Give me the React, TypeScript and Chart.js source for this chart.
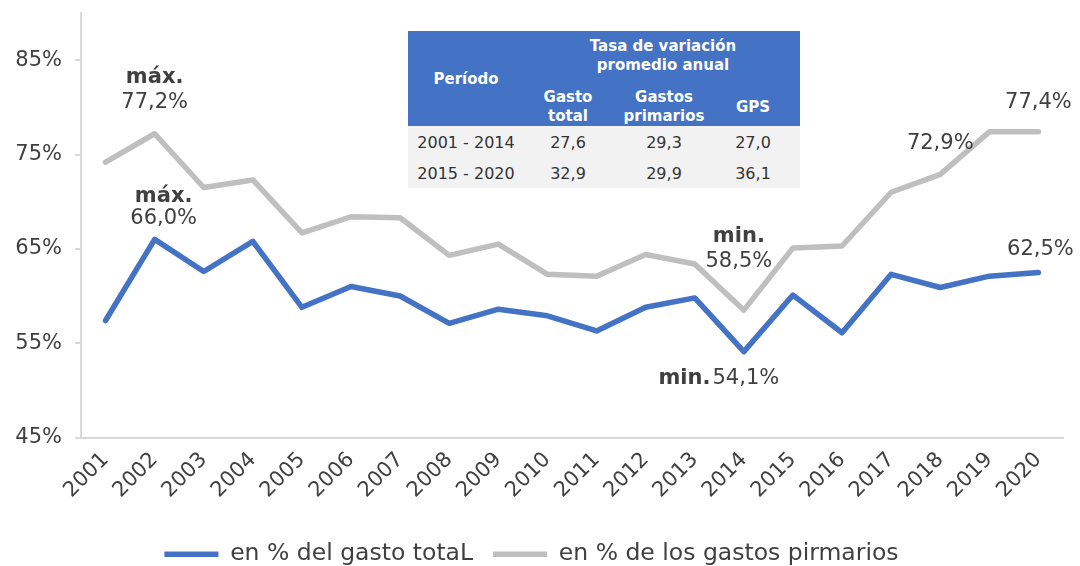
import React, { useEffect, useRef } from "react";
import { Chart, registerables } from "chart.js";

Chart.register(...registerables);

const years = ["2001", "2002", "2003", "2004", "2005", "2006", "2007", "2008", "2009", "2010", "2011", "2012", "2013", "2014", "2015", "2016", "2017", "2018", "2019", "2020"];
const gastoTotal = [57.4, 66.0, 62.6, 65.8, 58.8, 61.0, 60.0, 57.1, 58.6, 57.9, 56.3, 58.8, 59.8, 54.1, 60.1, 56.1, 62.3, 60.9, 62.1, 62.5];
const gastosPrimarios = [74.2, 77.2, 71.5, 72.3, 66.7, 68.4, 68.3, 64.3, 65.5, 62.3, 62.1, 64.4, 63.4, 58.5, 65.1, 65.3, 71.0, 72.9, 77.4, 77.4];
const yTicks = [45, 55, 65, 75, 85];
const seriesLabels = ["en % del gasto totaL", "en % de los gastos pirmarios"];

const tablePeriods = ["2001 - 2014", "2015 - 2020"];
const tasaGastoTotal = [27.6, 32.9];
const tasaGastosPrimarios = [29.3, 29.9];
const tasaGPS = [27.0, 36.1];

// which points get a label (series index, point index, optional bold prefix)
const annotations = [
  { series: 1, index: 1, bold: "máx.", mode: "stack", dx: 0, boldDy: -56, valueDy: -31 },
  { series: 0, index: 1, bold: "máx.", mode: "stack", dx: 9, boldDy: -43, valueDy: -21 },
  { series: 1, index: 13, bold: "min.", mode: "stack", dx: -5, boldDy: -74, valueDy: -49 },
  { series: 0, index: 13, bold: "min.", mode: "inline", dx: -25, boldDy: 27, valueDy: 27 },
  { series: 1, index: 17, bold: "", mode: "stack", dx: 0, boldDy: 0, valueDy: -31 },
  { series: 1, index: 19, bold: "", mode: "stack", dx: 0, boldDy: 0, valueDy: -29 },
  { series: 0, index: 19, bold: "", mode: "stack", dx: 2, boldDy: 0, valueDy: -23 },
];

const FONT = "'DejaVu Sans', sans-serif";
const TEXT = "#404040";
const BLUE = "#4472C4";
const GRAY = "#BFBFBF";

const fmt = (v: number) => v.toFixed(1).replace(".", ",");

const annotPlugin = {
  id: "annots",
  afterDatasetsDraw(chart: any) {
    const ctx = chart.ctx;
    const xs = chart.scales.x;
    const ys = chart.scales.y;
    const series = [gastoTotal, gastosPrimarios];
    ctx.save();
    ctx.fillStyle = TEXT;
    ctx.textBaseline = "middle";
    annotations.forEach((a) => {
      const v = series[a.series][a.index];
      const px = xs.getPixelForValue(a.index) + a.dx;
      const py = ys.getPixelForValue(v);
      const valText = fmt(v) + "%";
      const boldFont = `bold 21px ${FONT}`;
      const normFont = `21px ${FONT}`;
      if (a.mode === "inline") {
        ctx.font = boldFont;
        const bw = ctx.measureText(a.bold).width;
        ctx.font = normFont;
        const vw = ctx.measureText(valText).width;
        const gap = 2;
        const start = px - (bw + gap + vw) / 2;
        ctx.textAlign = "left";
        ctx.font = boldFont;
        ctx.fillText(a.bold, start, py + a.boldDy);
        ctx.font = normFont;
        ctx.fillText(valText, start + bw + gap, py + a.valueDy);
      } else {
        ctx.textAlign = "center";
        if (a.bold) {
          ctx.font = boldFont;
          ctx.fillText(a.bold, px, py + a.boldDy);
        }
        ctx.font = normFont;
        ctx.fillText(valText, px, py + a.valueDy);
      }
    });
    ctx.restore();
  },
};

function InsetTable() {
  const white = "#ffffff";
  const hdr: React.CSSProperties = {
    position: "absolute",
    color: white,
    fontFamily: FONT,
    fontWeight: "bold",
    fontSize: 15,
    lineHeight: "19px",
    textAlign: "center",
    transform: "translateX(-50%)",
    whiteSpace: "nowrap",
  };
  const cell: React.CSSProperties = {
    position: "absolute",
    color: "#333333",
    fontFamily: FONT,
    fontSize: 16,
    lineHeight: "20px",
    textAlign: "center",
    transform: "translate(-50%, -50%)",
    whiteSpace: "nowrap",
  };
  const colX = [58, 160, 256, 345];
  const rowY = [112, 143];
  return (
    <div style={{ position: "absolute", left: 408, top: 31, width: 392, height: 157 }}>
      <div style={{ position: "absolute", left: 0, top: 0, width: 392, height: 95, background: BLUE }} />
      <div style={{ position: "absolute", left: 0, top: 95, width: 392, height: 62, background: "#F2F2F2" }} />
      <div style={{ ...hdr, left: colX[0], top: 39 }}>Período</div>
      <div style={{ ...hdr, left: 255, top: 6 }}>Tasa de variación<br />promedio anual</div>
      <div style={{ ...hdr, left: colX[1], top: 57 }}>Gasto<br />total</div>
      <div style={{ ...hdr, left: colX[2], top: 57 }}>Gastos<br />primarios</div>
      <div style={{ ...hdr, left: colX[3], top: 67 }}>GPS</div>
      {tablePeriods.map((p, i) => (
        <React.Fragment key={p}>
          <div style={{ ...cell, left: colX[0], top: rowY[i] }}>{p}</div>
          <div style={{ ...cell, left: colX[1], top: rowY[i] }}>{fmt(tasaGastoTotal[i])}</div>
          <div style={{ ...cell, left: colX[2], top: rowY[i] }}>{fmt(tasaGastosPrimarios[i])}</div>
          <div style={{ ...cell, left: colX[3], top: rowY[i] }}>{fmt(tasaGPS[i])}</div>
        </React.Fragment>
      ))}
    </div>
  );
}

export default function App() {
  const ref = useRef<HTMLCanvasElement | null>(null);
  useEffect(() => {
    document.body.style.margin = "0";
    const canvas = ref.current;
    if (!canvas) return;
    const chart = new Chart(canvas, {
      type: "line",
      data: {
        labels: years,
        datasets: [
          {
            label: seriesLabels[0],
            data: gastoTotal,
            borderColor: BLUE,
            backgroundColor: BLUE,
            borderWidth: 5.5,
            pointRadius: 0,
            borderCapStyle: "round",
            borderJoinStyle: "round",
            tension: 0,
          },
          {
            label: seriesLabels[1],
            data: gastosPrimarios,
            borderColor: GRAY,
            backgroundColor: GRAY,
            borderWidth: 5.5,
            pointRadius: 0,
            borderCapStyle: "round",
            borderJoinStyle: "round",
            tension: 0,
          },
        ],
      },
      options: {
        responsive: false,
        animation: false,
        layout: { padding: { top: 13, right: 17, left: 0, bottom: -10 } },
        plugins: {
          legend: {
            position: "bottom",
            labels: {
              usePointStyle: true,
              pointStyle: "line",
              pointStyleWidth: 54,
              boxHeight: 6,
              padding: 20,
              color: TEXT,
              font: { family: FONT, size: 23.5 },
            },
          },
          tooltip: { enabled: false },
        },
        scales: {
          x: {
            offset: true,
            grid: { drawOnChartArea: false, drawTicks: false },
            border: { display: true, color: "#D9D9D9", width: 2 },
            ticks: {
              autoSkip: false,
              maxRotation: 45,
              minRotation: 45,
              padding: 10,
              color: TEXT,
              font: { family: FONT, size: 21 },
            },
            afterFit: (s: any) => {
              s.height = 85;
            },
          },
          y: {
            min: 45,
            max: 90,
            grid: { drawOnChartArea: false, drawTicks: true, tickLength: 6, color: "#D9D9D9", lineWidth: 2 },
            border: { display: true, color: "#D9D9D9", width: 2 },
            ticks: {
              padding: 13,
              color: TEXT,
              font: { family: FONT, size: 21 },
              callback: (v: any) => v + "%",
            },
            afterBuildTicks: (s: any) => {
              s.ticks = yTicks.map((v) => ({ value: v }));
            },
            afterFit: (s: any) => {
              s.width = 81;
              s.paddingTop = 0;
              s.paddingBottom = 0;
            },
          },
        },
      },
      plugins: [annotPlugin],
    } as any);
    return () => chart.destroy();
  }, []);
  return (
    <div style={{ position: "absolute", left: 0, top: 0, width: 1080, height: 566, background: "#fff", overflow: "hidden" }}>
      <canvas ref={ref} width={1080} height={566} style={{ display: "block" }} />
      <InsetTable />
    </div>
  );
}
